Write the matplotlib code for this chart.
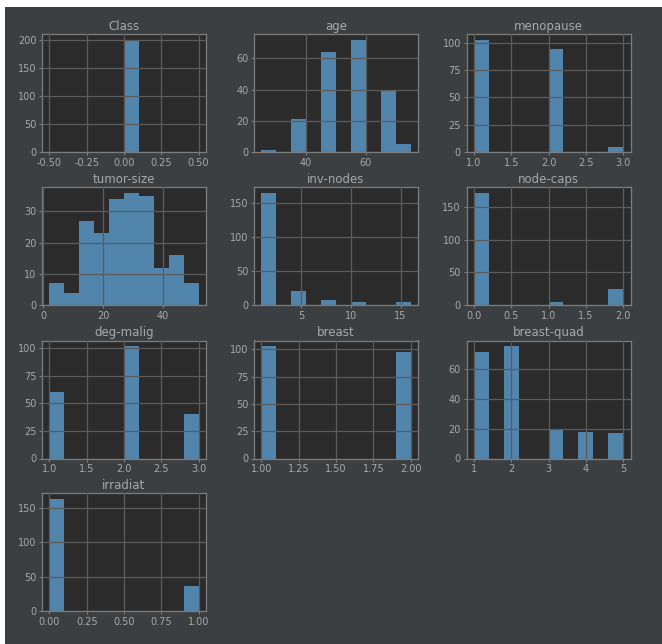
import numpy as np
import matplotlib
matplotlib.use("Agg")
import matplotlib.pyplot as plt
from matplotlib.patches import Rectangle

# Histogram counts per column (10 equal-width bins between min and max)
columns = ["Class", "age", "menopause", "tumor-size", "inv-nodes",
           "node-caps", "deg-malig", "breast", "breast-quad", "irradiat"]

class_range = (-0.5, 0.5)
class_counts = [0, 0, 0, 0, 0, 201, 0, 0, 0, 0]

age_range = (25, 75)
age_counts = [1, 0, 21, 0, 64, 0, 72, 0, 40, 5]

menopause_range = (1, 3)
menopause_counts = [103, 0, 0, 0, 0, 94, 0, 0, 0, 5]

tumor_size_range = (2, 52)
tumor_size_counts = [7, 4, 27, 23, 34, 36, 35, 12, 16, 7]

inv_nodes_range = (1, 16)
inv_nodes_counts = [166, 0, 20, 0, 7, 0, 4, 0, 0, 4]

node_caps_range = (0, 2)
node_caps_counts = [172, 0, 0, 0, 0, 5, 0, 0, 0, 24]

deg_malig_range = (1, 3)
deg_malig_counts = [60, 0, 0, 0, 0, 102, 0, 0, 0, 40]

breast_range = (1, 2)
breast_counts = [103, 0, 0, 0, 0, 0, 0, 0, 0, 98]

breast_quad_range = (1, 5)
breast_quad_counts = [71, 0, 75, 0, 0, 20, 0, 18, 0, 17]

irradiat_range = (0, 1)
irradiat_counts = [164, 0, 0, 0, 0, 0, 0, 0, 0, 37]

# Tick positions per panel
class_xticks = [-0.5, -0.25, 0.0, 0.25, 0.5]
class_yticks = [0, 50, 100, 150, 200]
age_xticks = [40, 60]
age_yticks = [0, 20, 40, 60]
menopause_xticks = [1.0, 1.5, 2.0, 2.5, 3.0]
menopause_yticks = [0, 25, 50, 75, 100]
tumor_size_xticks = [0, 20, 40]
tumor_size_yticks = [0, 10, 20, 30]
inv_nodes_xticks = [5, 10, 15]
inv_nodes_yticks = [0, 50, 100, 150]
node_caps_xticks = [0.0, 0.5, 1.0, 1.5, 2.0]
node_caps_yticks = [0, 50, 100, 150]
deg_malig_xticks = [1.0, 1.5, 2.0, 2.5, 3.0]
deg_malig_yticks = [0, 25, 50, 75, 100]
breast_xticks = [1.0, 1.25, 1.5, 1.75, 2.0]
breast_yticks = [0, 25, 50, 75, 100]
breast_quad_xticks = [1, 2, 3, 4, 5]
breast_quad_yticks = [0, 20, 40, 60]
irradiat_xticks = [0.0, 0.25, 0.5, 0.75, 1.0]
irradiat_yticks = [0, 50, 100, 150]

x_formats = ["%.2f", "%d", "%.1f", "%d", "%d", "%.1f", "%.1f", "%.2f", "%d", "%.2f"]

panels = [
    (class_range, class_counts, class_xticks, class_yticks),
    (age_range, age_counts, age_xticks, age_yticks),
    (menopause_range, menopause_counts, menopause_xticks, menopause_yticks),
    (tumor_size_range, tumor_size_counts, tumor_size_xticks, tumor_size_yticks),
    (inv_nodes_range, inv_nodes_counts, inv_nodes_xticks, inv_nodes_yticks),
    (node_caps_range, node_caps_counts, node_caps_xticks, node_caps_yticks),
    (deg_malig_range, deg_malig_counts, deg_malig_xticks, deg_malig_yticks),
    (breast_range, breast_counts, breast_xticks, breast_yticks),
    (breast_quad_range, breast_quad_counts, breast_quad_xticks, breast_quad_yticks),
    (irradiat_range, irradiat_counts, irradiat_xticks, irradiat_yticks),
]

W, H = 662, 644
FIG_BG = "#3c3f41"
AX_BG = "#2b2b2b"
BAR = "#5185ab"
GRID = "#5c5c5c"
SPINE = "#7d7d7d"
TEXT = "#a8a8a8"

fig = plt.figure(figsize=(W / 100, H / 100), dpi=100, facecolor="white")
# dark canvas with a thin white margin on the top and left
fig.patches.append(Rectangle((5 / W, 0), 1 - 5 / W, 1 - 7 / H,
                             transform=fig.transFigure, facecolor=FIG_BG,
                             edgecolor="none", zorder=-10))

col_left = [42, 254, 466.5]
ax_w = 164
row_top = [34, 187, 340.5, 493]
ax_h = 118

for i, (name, (rng, counts, xt, yt), fmt) in enumerate(zip(columns, panels, x_formats)):
    r, c = divmod(i, 3)
    left = col_left[c] / W
    bottom = 1 - (row_top[r] + ax_h) / H
    ax = fig.add_axes([left, bottom, ax_w / W, ax_h / H])
    ax.set_facecolor(AX_BG)

    edges = np.linspace(rng[0], rng[1], len(counts) + 1)
    ax.hist(edges[:-1], bins=edges, weights=counts, color=BAR, linewidth=0)

    ax.set_xticks(xt)
    ax.set_yticks(yt)
    ax.xaxis.set_major_formatter(matplotlib.ticker.FormatStrFormatter(fmt))
    ax.set_axisbelow(False)
    ax.grid(True, color=GRID, linewidth=0.9)
    for s in ax.spines.values():
        s.set_color(SPINE)
        s.set_linewidth(0.9)
    ax.tick_params(colors=SPINE, labelcolor=TEXT, labelsize=7,
                   length=2.5, width=0.8, pad=1.5)
    ax.set_title(name, color=TEXT, fontsize=8.5, pad=3)

fig.savefig("out.png", dpi=100, facecolor=fig.get_facecolor())
